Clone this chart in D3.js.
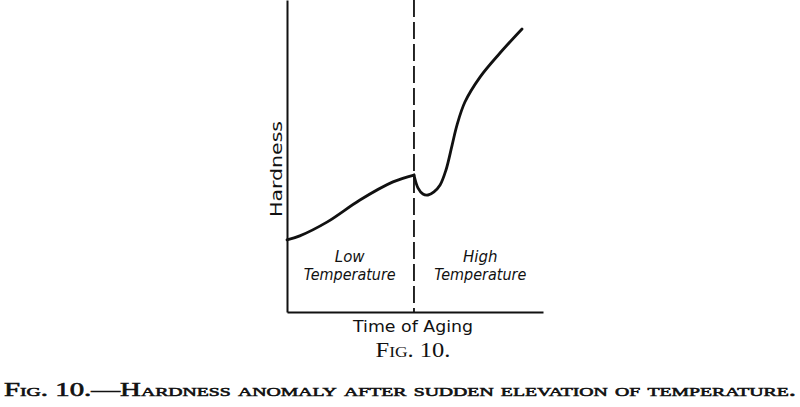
<!DOCTYPE html>
<html><head><meta charset="utf-8">
<script src="https://cdn.jsdelivr.net/npm/d3@7"></script>
<style>body{margin:0;background:#fff}svg{display:block}</style>
</head><body>
<script>
// Data (time of aging in % of plotted range, hardness in % of plotted range)
const lowTime = [0, 5, 15.6, 28.5, 41.4, 49.6];
const lowHardness = [23.1, 24.4, 28.8, 35.9, 41.7, 43.9];
const highTime = [49.6, 51.2, 53.1, 55.1, 57.4, 59.8, 62.1, 64.5, 66.4, 69.5, 75.4, 83.2, 91.8];
const highHardness = [43.9, 39.7, 37.8, 37.5, 38.5, 40.7, 45.5, 53.5, 59.9, 67.3, 75.3, 83.0, 90.7];
const changeTime = 49.6;
const regionLabels = [["Low", "Temperature"], ["High", "Temperature"]];
const regionCenters = [24.5, 75.5];
const xTitle = "Time of Aging";
const yTitle = "Hardness";
const figLabel = "Fig. 10.";
const caption = "Fig. 10.—Hardness anomaly after sudden elevation of temperature.";

const W = 800, H = 407;
const svg = d3.select("body").append("svg").attr("width", W).attr("height", H);
const x = d3.scaleLinear().domain([0, 100]).range([287, 543]);
const y = d3.scaleLinear().domain([0, 100]).range([312, 0]);

// axes (no ticks)
const xAxis = d3.axisBottom(x).tickValues([]).tickSizeOuter(0);
const yAxis = d3.axisLeft(y).tickValues([]).tickSizeOuter(0);
svg.append("g").attr("transform", `translate(0,${y(0)})`).call(xAxis)
  .select(".domain").attr("stroke", "#111").attr("stroke-width", 2);
svg.append("g").attr("transform", `translate(${x(0)},0)`).call(yAxis)
  .select(".domain").attr("stroke", "#111").attr("stroke-width", 2);

// dashed separator
svg.append("line").attr("x1", x(changeTime)).attr("x2", x(changeTime))
  .attr("y1", y(100)).attr("y2", y(0))
  .attr("stroke", "#111").attr("stroke-width", 1.8).attr("stroke-dasharray", "17,5");

const line = d3.line().x(d => x(d[0])).y(d => y(d[1])).curve(d3.curveCatmullRom.alpha(0.5));
const low = lowTime.map((t, i) => [t, lowHardness[i]]);
const high = highTime.map((t, i) => [t, highHardness[i]]);
[low, high].forEach(seg => {
  svg.append("path").datum(seg).attr("d", line).attr("fill", "none")
    .attr("stroke", "#111").attr("stroke-width", 2.8).attr("stroke-linecap", "round");
});

// region labels
regionLabels.forEach((lbl, i) => {
  const t = svg.append("text").attr("text-anchor", "middle")
    .attr("font-family", "DejaVu Sans").attr("font-style", "italic")
    .attr("font-size", 15).attr("fill", "#111");
  t.append("tspan").attr("x", x(regionCenters[i])).attr("y", 262).text(lbl[0]);
  t.append("tspan").attr("x", x(regionCenters[i])).attr("y", 280).text(lbl[1])
    .attr("textLength", 92).attr("lengthAdjust", "spacingAndGlyphs");
});

// axis titles
svg.append("text").attr("x", 413).attr("y", 332).attr("text-anchor", "middle")
  .attr("font-family", "DejaVu Sans").attr("font-size", 16).attr("fill", "#111")
  .attr("textLength", 120).attr("lengthAdjust", "spacingAndGlyphs").text(xTitle);
svg.append("text").attr("transform", "translate(282,169) rotate(-90)").attr("text-anchor", "middle")
  .attr("font-family", "DejaVu Sans").attr("font-size", 16).attr("fill", "#111")
  .attr("textLength", 96).attr("lengthAdjust", "spacingAndGlyphs").text(yTitle);

// figure label (small caps)
svg.append("text").attr("x", 413).attr("y", 357).attr("text-anchor", "middle")
  .attr("font-family", "Liberation Serif").attr("font-size", 21).attr("fill", "#111")
  .style("font-variant", "small-caps")
  .attr("textLength", 75).attr("lengthAdjust", "spacingAndGlyphs").text(figLabel);

// caption
svg.append("text").attr("x", 4).attr("y", 396)
  .attr("font-family", "Liberation Serif").attr("font-size", 19).attr("fill", "#111")
  .attr("stroke", "#111").attr("stroke-width", 0.6)
  .style("font-variant", "small-caps")
  .attr("textLength", 792).attr("lengthAdjust", "spacingAndGlyphs").text(caption);
</script>
</body></html>
